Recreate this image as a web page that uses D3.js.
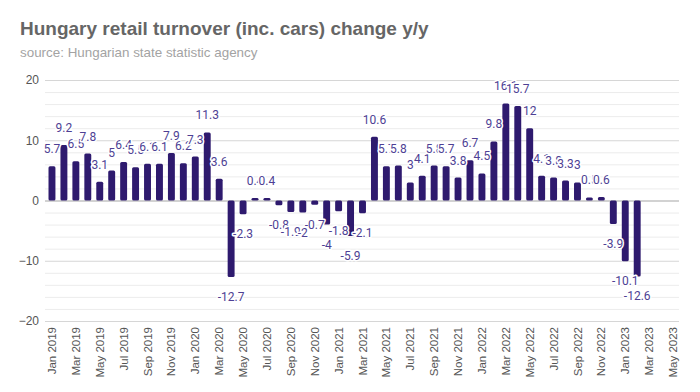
<!DOCTYPE html>
<html>
<head>
<meta charset="utf-8">
<script src="https://cdn.jsdelivr.net/npm/d3@7/dist/d3.min.js"></script>
<style>
  html, body { margin: 0; padding: 0; background: #fff; }
  svg { display: block; font-family: "Liberation Sans", Arial, sans-serif; }
</style>
</head>
<body>
<svg id="chart" width="700" height="392"></svg>
<script>
const months = [
  "Jan 2019","Feb 2019","Mar 2019","Apr 2019","May 2019","Jun 2019","Jul 2019","Aug 2019","Sep 2019","Oct 2019","Nov 2019","Dec 2019",
  "Jan 2020","Feb 2020","Mar 2020","Apr 2020","May 2020","Jun 2020","Jul 2020","Aug 2020","Sep 2020","Oct 2020","Nov 2020","Dec 2020",
  "Jan 2021","Feb 2021","Mar 2021","Apr 2021","May 2021","Jun 2021","Jul 2021","Aug 2021","Sep 2021","Oct 2021","Nov 2021","Dec 2021",
  "Jan 2022","Feb 2022","Mar 2022","Apr 2022","May 2022","Jun 2022","Jul 2022","Aug 2022","Sep 2022","Oct 2022","Nov 2022","Dec 2022",
  "Jan 2023","Feb 2023","Mar 2023","Apr 2023","May 2023"
];
const values = [
  5.7, 9.2, 6.5, 7.8, 3.1, 5, 6.4, 5.5, 6.1, 6.1, 7.9, 6.2,
  7.3, 11.3, 3.6, -12.7, -2.3, 0.4, 0.4, -0.8, -1.9, -2, -0.7, -4,
  -1.8, -5.9, -2.1, 10.6, 5.7, 5.8, 3, 4.1, 5.8, 5.7, 3.8, 6.7,
  4.5, 9.8, 16.1, 15.7, 12, 4.1, 3.8, 3.3, 3, 0.5, 0.6, -3.9,
  -10.1, -12.6
];
const xTickLabels = months.filter((m, i) => i % 2 === 0);
const yTickValues = [-20, -10, 0, 10, 20];
const yGridValues = d3.range(-20, 20.001, 2);

const title = "Hungary retail turnover (inc. cars) change y/y";
const subtitle = "source: Hungarian state statistic agency";

const data = values.map((v, i) => ({ month: months[i], value: v }));

const svg = d3.select("#chart");
const mLeft = 46, mRight = 679, mTop = 80, mBottom = 321;

const x = d3.scaleBand().domain(months).range([mLeft, mRight]).paddingInner(0.42).paddingOuter(0.21);
const y = d3.scaleLinear().domain([-20, 20]).range([mBottom, mTop]);

svg.append("text").attr("x", 20).attr("y", 35)
  .attr("font-size", 19).attr("font-weight", "bold").attr("fill", "#666")
  .text(title);
svg.append("text").attr("x", 20).attr("y", 57)
  .attr("font-size", 13.4).attr("fill", "#a3a3a3")
  .text(subtitle);

// grid
svg.append("g").selectAll("line").data(yGridValues).join("line")
  .attr("x1", mLeft - 1).attr("x2", mRight)
  .attr("y1", d => y(d) + 0.5).attr("y2", d => y(d) + 0.5)
  .attr("stroke", d => d === 0 ? "#a6a6a6" : (d % 10 === 0 ? "#d6d6d6" : "#ececec"))
  .attr("stroke-width", d => d % 10 === 0 ? 1.2 : 1);

// y axis labels
const yAxis = d3.axisLeft(y).tickValues(yTickValues).tickSize(0).tickPadding(0);
const gy = svg.append("g").attr("transform", `translate(${mLeft - 7},0)`).call(yAxis);
gy.select(".domain").remove();
gy.selectAll("text").attr("font-size", 12).attr("fill", "#555").attr("font-family", "'Liberation Sans', Arial, sans-serif");

// x axis labels
const xAxis = d3.axisBottom(x).tickValues(xTickLabels).tickSize(0).tickPadding(0);
const gx = svg.append("g").attr("transform", `translate(0,${mBottom + 6})`).call(xAxis);
gx.select(".domain").remove();
gx.selectAll("text")
  .attr("font-size", 11.5).attr("fill", "#555").attr("font-family", "'Liberation Sans', Arial, sans-serif")
  .attr("transform", "rotate(-90)")
  .attr("text-anchor", "end")
  .attr("dy", "0.35em").attr("x", 0).attr("y", 0);

// bars
svg.append("g").selectAll("rect").data(data).join("rect")
  .attr("x", d => x(d.month))
  .attr("width", x.bandwidth())
  .attr("y", d => y(Math.max(0, d.value)))
  .attr("height", d => Math.abs(y(d.value) - y(0)))
  .attr("rx", 1.5)
  .attr("fill", "#2e1a6e");

// value labels
svg.append("g").selectAll("text").data(data).join("text")
  .attr("x", d => x(d.month) + x.bandwidth() / 2)
  .attr("y", d => d.value >= 0 ? y(d.value) - 13 : y(d.value) + 24)
  .attr("text-anchor", "middle")
  .attr("font-family", "Roboto, sans-serif")
  .attr("font-size", 12)
  .attr("fill", "#4e3f94")
  .attr("stroke", "#fff").attr("stroke-width", 3).attr("paint-order", "stroke")
  .attr("stroke-linejoin", "round")
  .text(d => d.value);
</script>
</body>
</html>
